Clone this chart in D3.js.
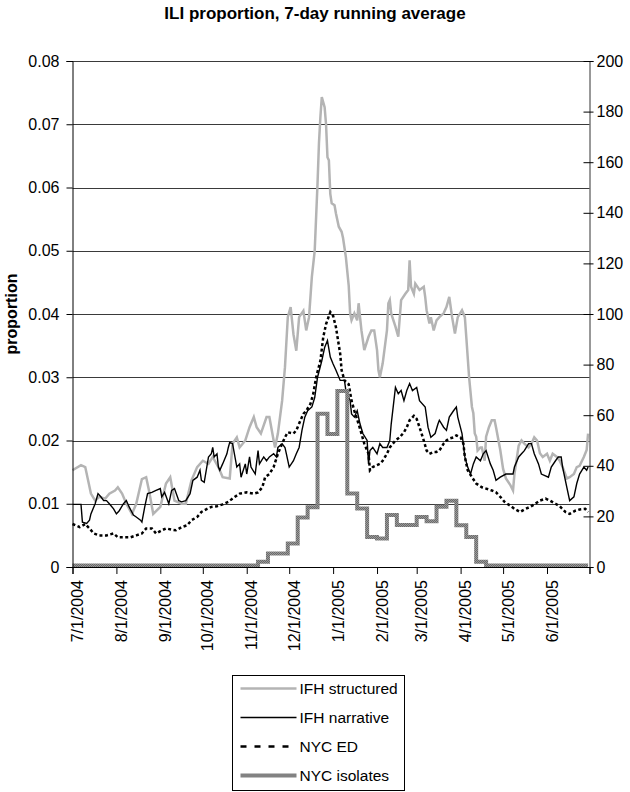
<!DOCTYPE html>
<head>
<meta charset="utf-8">
<title>ILI proportion</title>
<script src="https://d3js.org/d3.v7.min.js"></script>
<style>
  body { margin: 0; background: #fff; }
  text { font-family: "Liberation Sans", Arial, sans-serif; }
</style>
</head>
<body>
<div id="chart"></div>
<script>
// day offsets from 7/1/2004, value = proportion
var ifhStructured = [[0,0.0153],[6,0.0161],[9,0.0158],[11,0.0137],[13,0.0116],[16,0.0105],[19,0.0111],[23,0.0108],[26,0.0116],[30,0.0121],[32,0.0126],[35,0.0116],[38,0.0100],[42,0.0084],[45,0.0100],[49,0.0139],[52,0.0142],[54,0.0121],[57,0.0084],[62,0.0095],[66,0.0132],[69,0.0142],[72,0.0105],[77,0.0100],[80,0.0100],[84,0.0137],[88,0.0158],[92,0.0168],[96,0.0163],[99,0.0174],[103,0.0158],[106,0.0142],[111,0.0140],[113,0.0195],[116,0.0205],[118,0.0189],[122,0.0200],[125,0.0221],[128,0.0237],[130,0.0221],[133,0.0211],[137,0.0237],[139,0.0237],[142,0.0200],[143,0.0189],[145,0.0211],[148,0.0263],[150,0.0316],[152,0.0395],[154,0.0411],[156,0.0368],[158,0.0342],[160,0.0395],[163,0.0405],[165,0.0374],[167,0.0395],[169,0.0459],[171,0.0500],[173,0.0607],[174,0.0670],[175,0.0711],[176,0.0743],[178,0.0727],[179,0.0700],[180,0.0648],[181,0.0643],[182,0.0590],[183,0.0575],[185,0.0572],[186,0.0559],[188,0.0538],[190,0.0530],[191,0.0520],[193,0.0490],[195,0.0445],[196,0.0401],[197,0.0390],[199,0.0401],[201,0.0390],[202,0.0417],[203,0.0395],[204,0.0374],[206,0.0343],[209,0.0364],[211,0.0374],[213,0.0374],[215,0.0343],[216,0.0311],[217,0.0300],[219,0.0322],[222,0.0374],[223,0.0417],[224,0.0422],[225,0.0401],[228,0.0380],[230,0.0364],[232,0.0422],[235,0.0432],[237,0.0438],[238,0.0485],[239,0.0443],[241,0.0432],[242,0.0448],[245,0.0438],[248,0.0443],[249,0.0427],[250,0.0406],[252,0.0385],[253,0.0395],[255,0.0374],[257,0.0390],[259,0.0395],[262,0.0401],[264,0.0411],[266,0.0427],[268,0.0395],[270,0.0369],[272,0.0395],[275,0.0406],[277,0.0395],[278,0.0364],[280,0.0300],[282,0.0253],[283,0.0243],[284,0.0211],[285,0.0206],[286,0.0184],[288,0.0189],[289,0.0189],[291,0.0168],[292,0.0206],[294,0.0221],[296,0.0232],[298,0.0232],[299,0.0221],[302,0.0185],[304,0.0155],[306,0.0140],[309,0.0130],[311,0.0121],[312,0.0147],[315,0.0192],[317,0.0200],[319,0.0195],[322,0.0189],[324,0.0195],[326,0.0205],[328,0.0200],[330,0.0180],[332,0.0174],[335,0.0179],[337,0.0168],[339,0.0179],[342,0.0174],[344,0.0168],[346,0.0158],[349,0.0140],[351,0.0142],[354,0.0147],[356,0.0158],[358,0.0160],[361,0.0174],[363,0.0185],[364,0.0211]];

var ifhNarrative = [[0,0.0099],[6,0.0099],[7,0.0071],[10,0.0069],[12,0.0074],[13,0.0084],[16,0.0100],[18,0.0116],[20,0.0111],[22,0.0105],[24,0.0105],[26,0.0100],[29,0.0092],[31,0.0084],[33,0.0089],[36,0.0100],[38,0.0105],[40,0.0095],[43,0.0082],[45,0.0079],[48,0.0074],[49,0.0071],[51,0.0095],[53,0.0116],[56,0.0118],[59,0.0121],[62,0.0124],[63,0.0111],[65,0.0118],[68,0.0100],[70,0.0121],[72,0.0124],[75,0.0105],[77,0.0103],[80,0.0105],[83,0.0116],[85,0.0137],[88,0.0142],[90,0.0153],[91,0.0137],[93,0.0134],[96,0.0174],[98,0.0179],[99,0.0189],[100,0.0174],[102,0.0179],[103,0.0158],[104,0.0153],[106,0.0163],[109,0.0179],[110,0.0189],[111,0.0197],[113,0.0195],[116,0.0158],[118,0.0163],[119,0.0142],[122,0.0163],[123,0.0147],[125,0.0174],[126,0.0158],[129,0.0147],[131,0.0184],[132,0.0163],[135,0.0174],[137,0.0168],[139,0.0174],[142,0.0179],[144,0.0174],[145,0.0189],[148,0.0195],[150,0.0189],[151,0.0179],[153,0.0158],[156,0.0168],[158,0.0179],[160,0.0189],[162,0.0216],[164,0.0237],[166,0.0247],[169,0.0253],[171,0.0268],[173,0.0300],[176,0.0326],[178,0.0347],[180,0.0358],[182,0.0332],[184,0.0321],[186,0.0311],[189,0.0295],[192,0.0295],[193,0.0279],[196,0.0263],[197,0.0242],[199,0.0237],[201,0.0247],[203,0.0226],[205,0.0211],[208,0.0200],[209,0.0163],[210,0.0184],[212,0.0189],[215,0.0179],[217,0.0195],[219,0.0189],[222,0.0189],[224,0.0200],[225,0.0226],[228,0.0284],[230,0.0274],[232,0.0279],[234,0.0263],[236,0.0279],[238,0.0290],[240,0.0279],[243,0.0284],[245,0.0263],[249,0.0253],[251,0.0221],[253,0.0205],[256,0.0211],[258,0.0226],[259,0.0232],[262,0.0221],[264,0.0216],[266,0.0237],[269,0.0247],[271,0.0253],[272,0.0237],[275,0.0211],[277,0.0174],[279,0.0158],[281,0.0147],[283,0.0163],[285,0.0174],[288,0.0168],[290,0.0179],[292,0.0184],[295,0.0163],[297,0.0153],[299,0.0137],[302,0.0142],[306,0.0147],[311,0.0147],[312,0.0158],[315,0.0174],[317,0.0179],[319,0.0184],[322,0.0195],[324,0.0195],[326,0.0179],[329,0.0163],[331,0.0147],[336,0.0142],[338,0.0158],[341,0.0168],[343,0.0174],[345,0.0174],[346,0.0158],[349,0.0126],[351,0.0105],[354,0.0111],[356,0.0132],[358,0.0147],[361,0.0158],[363,0.0153],[364,0.0158]];

var nycED = [[0,0.0068],[5,0.0063],[9,0.0068],[12,0.0061],[15,0.0053],[19,0.0050],[24,0.0050],[29,0.0053],[32,0.0047],[36,0.0047],[41,0.0047],[45,0.0050],[49,0.0053],[52,0.0061],[56,0.0061],[59,0.0053],[63,0.0058],[66,0.0061],[70,0.0059],[73,0.0058],[77,0.0063],[81,0.0066],[84,0.0074],[88,0.0079],[91,0.0087],[95,0.0092],[98,0.0095],[102,0.0096],[106,0.0099],[110,0.0103],[114,0.0110],[118,0.0116],[123,0.0118],[128,0.0116],[131,0.0118],[134,0.0126],[136,0.0142],[139,0.0147],[142,0.0158],[145,0.0179],[148,0.0195],[150,0.0205],[152,0.0213],[156,0.0211],[158,0.0216],[161,0.0232],[163,0.0242],[165,0.0247],[168,0.0258],[170,0.0274],[172,0.0300],[175,0.0326],[177,0.0363],[179,0.0384],[182,0.0403],[184,0.0397],[186,0.0379],[189,0.0337],[190,0.0311],[192,0.0295],[195,0.0289],[197,0.0263],[199,0.0247],[202,0.0226],[204,0.0211],[206,0.0195],[209,0.0179],[210,0.0153],[212,0.0158],[215,0.0161],[217,0.0163],[219,0.0168],[222,0.0179],[224,0.0189],[228,0.0200],[231,0.0205],[234,0.0213],[236,0.0221],[238,0.0232],[241,0.0239],[243,0.0234],[245,0.0221],[248,0.0200],[250,0.0184],[252,0.0179],[255,0.0182],[257,0.0182],[259,0.0184],[262,0.0195],[264,0.0200],[266,0.0203],[269,0.0205],[271,0.0208],[274,0.0205],[276,0.0195],[277,0.0174],[279,0.0153],[282,0.0142],[285,0.0132],[289,0.0126],[292,0.0124],[296,0.0121],[299,0.0118],[302,0.0111],[305,0.0103],[309,0.0097],[312,0.0092],[316,0.0087],[319,0.0091],[323,0.0095],[326,0.0099],[330,0.0105],[334,0.0108],[337,0.0105],[341,0.0100],[344,0.0096],[348,0.0087],[351,0.0084],[355,0.0089],[358,0.0091],[362,0.0092],[364,0.0087]];

// weekly isolate counts (right axis), step starts in days from 7/1/2004
var isoWeekStart = [0,131,138,145,152,159,166,173,180,187,194,201,208,215,222,229,236,243,250,257,264,271,278,285,292,364];
var isoCount     = [0,1.5,4.7,4.7,8.7,19,23,60,52,69,28.5,22.5,11.3,10.7,20,16,16,19.2,17.5,23.2,25.6,15.9,11.3,1.5,0,0];

var leftTicks = [0,0.01,0.02,0.03,0.04,0.05,0.06,0.07,0.08];
var rightTicks = [0,20,40,60,80,100,120,140,160,180,200];
var seriesNames = ["IFH structured","IFH narrative","NYC ED","NYC isolates"];

var W = 630, H = 792;
var plotL = 72.5, plotR = 589.5, plotT = 61, plotB = 567;
var start = new Date(2004, 6, 1), end = new Date(2005, 6, 1);

function toDate(d) { return d3.timeDay.offset(start, d); }

var x = d3.scaleTime().domain([start, end]).range([plotL, plotR]);
var y = d3.scaleLinear().domain([0, 0.08]).range([plotB, plotT]);
var y2 = d3.scaleLinear().domain([0, 200]).range([plotB, plotT]);

var svg = d3.select("#chart").append("svg")
  .attr("width", W).attr("height", H);

var defs = svg.append("defs");
var pat = defs.append("pattern").attr("id", "hatch")
  .attr("patternUnits", "userSpaceOnUse").attr("width", 2).attr("height", 2);
pat.append("rect").attr("width", 2).attr("height", 2).attr("fill", "#9a9a9a");
pat.append("rect").attr("width", 1).attr("height", 1).attr("fill", "#6a6a6a");
pat.append("rect").attr("x", 1).attr("y", 1).attr("width", 1).attr("height", 1).attr("fill", "#6a6a6a");

// title
svg.append("text")
  .attr("x", 315).attr("y", 19)
  .attr("text-anchor", "middle")
  .style("font-weight", "bold").style("font-size", "17px")
  .text("ILI proportion, 7-day running average");

// gridlines
svg.append("g").selectAll("line")
  .data(leftTicks.slice(1))
  .enter().append("line")
  .attr("x1", plotL).attr("x2", plotR)
  .attr("y1", function (d) { return Math.round(y(d)) + 0.5; })
  .attr("y2", function (d) { return Math.round(y(d)) + 0.5; })
  .attr("stroke", "#3a3a3a").attr("stroke-width", 1);

// series
var line = d3.line()
  .x(function (d) { return x(toDate(d[0])); })
  .y(function (d) { return y(d[1]); });

svg.append("path").datum(ifhStructured)
  .attr("d", line).attr("fill", "none")
  .attr("stroke", "#b4b4b4").attr("stroke-width", 2.5);

svg.append("path").datum(ifhNarrative)
  .attr("d", line).attr("fill", "none")
  .attr("stroke", "#000").attr("stroke-width", 1.4);

svg.append("path").datum(nycED)
  .attr("d", line).attr("fill", "none")
  .attr("stroke", "#000").attr("stroke-width", 2.5)
  .attr("stroke-dasharray", "3,2.5");

var isoData = isoWeekStart.map(function (d, i) { return [d, isoCount[i]]; });
var stepLine = d3.line()
  .curve(d3.curveStepAfter)
  .x(function (d) { return x(toDate(d[0])); })
  .y(function (d) { return y2(d[1]) - 1.5; });

svg.append("path").datum(isoData)
  .attr("d", stepLine).attr("fill", "none")
  .attr("stroke", "url(#hatch)").attr("stroke-width", 4);

// left axis
var yAxis = d3.axisLeft(y).tickValues(leftTicks)
  .tickFormat(function (d) { return d === 0 ? "0" : d3.format(".2f")(d); })
  .tickSize(6).tickPadding(7);
var gy = svg.append("g").attr("transform", "translate(" + plotL + ",0)").call(yAxis);
gy.select(".domain").attr("stroke", "#000");

// right axis
var yAxis2 = d3.axisRight(y2).tickValues(rightTicks).tickSize(4).tickPadding(3);
var gy2 = svg.append("g").attr("transform", "translate(" + plotR + ",0)").call(yAxis2);
gy2.selectAll(".tick line").attr("x1", -6);
gy2.select(".domain").attr("stroke", "#333");

// bottom axis
var months = d3.timeMonth.range(start, end);
var xAxis = d3.axisBottom(x).tickValues(months.concat([end]))
  .tickFormat(function (d) { return +d === +end ? "" : d3.timeFormat("%-m/%-d/%Y")(d); })
  .tickSize(7);
var gx = svg.append("g").attr("transform", "translate(0," + plotB + ")").call(xAxis);
gx.selectAll(".tick text")
  .attr("transform", "rotate(-90)")
  .attr("x", -13).attr("y", 4.5).attr("dy", "0.35em")
  .attr("text-anchor", "end");

[gy, gy2, gx].forEach(function (g) {
  g.selectAll("text").style("font-size", "16px").attr("fill", "#000")
    .style("font-family", "'Liberation Sans', Arial, sans-serif");
  g.selectAll(".tick line").attr("stroke", "#000");
});

// y axis title
svg.append("text")
  .attr("transform", "translate(17," + ((plotT + plotB) / 2) + ") rotate(-90)")
  .attr("text-anchor", "middle")
  .style("font-weight", "bold").style("font-size", "16px")
  .text("proportion");

// legend
var lg = svg.append("g").attr("transform", "translate(232.5,675.5)");
lg.append("rect").attr("width", 172).attr("height", 115)
  .attr("fill", "#fff").attr("stroke", "#000");
var styles = [
  { stroke: "#b4b4b4", w: 2.5, dash: null },
  { stroke: "#000", w: 1.4, dash: null },
  { stroke: "#000", w: 2.5, dash: "6,8" },
  { stroke: "url(#hatch)", w: 4, dash: null }
];
var items = lg.selectAll(".item").data(seriesNames)
  .enter().append("g").attr("class", "item")
  .attr("transform", function (d, i) { return "translate(0," + (13 + i * 29) + ")"; });
items.append("line")
  .attr("x1", 8).attr("x2", 64)
  .attr("stroke", function (d, i) { return styles[i].stroke; })
  .attr("stroke-width", function (d, i) { return styles[i].w; })
  .attr("stroke-dasharray", function (d, i) { return styles[i].dash; });
items.append("text")
  .attr("x", 67).attr("dy", "0.35em")
  .style("font-size", "15.5px")
  .text(function (d) { return d; });
</script>
</body>
</html>
